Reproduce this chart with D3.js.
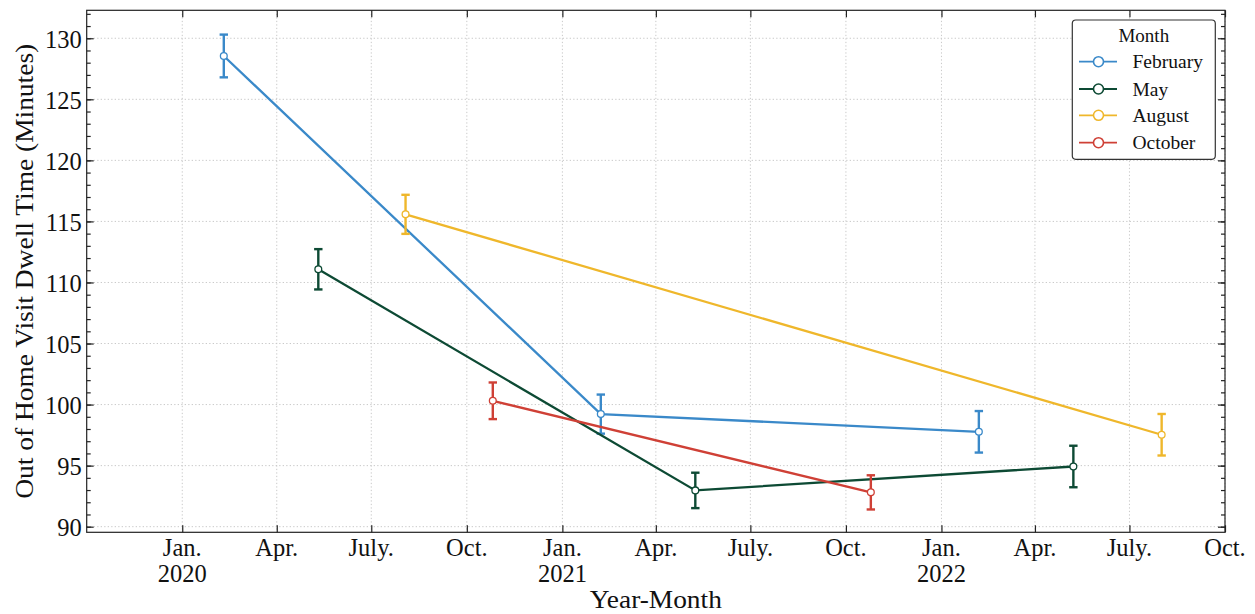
<!DOCTYPE html>
<html>
<head>
<meta charset="utf-8">
<script src="https://cdn.jsdelivr.net/npm/d3@7/dist/d3.min.js"></script>
<style>
  html, body { margin: 0; padding: 0; background: #ffffff; }
  svg { display: block; }
  text { font-family: "Liberation Serif", "DejaVu Serif", serif; fill: #111; }
</style>
</head>
<body>
<svg id="chart" width="1255" height="614"></svg>
<script>
// ---- data: mean out-of-home dwell time per sampled month, with error half-widths ----
const seriesNames = ["February", "May", "August", "October"];
const seriesColors = ["#3a89c9", "#0d4a34", "#efb72b", "#cf4036"];

const febDates = ["2020-02-10", "2021-02-07", "2022-02-06"];
const febMean  = [128.55, 99.22, 97.77];
const febErr   = [1.75, 1.6, 1.7];

const mayDates = ["2020-05-11", "2021-05-09", "2022-05-08"];
const mayMean  = [111.08, 92.97, 94.93];
const mayErr   = [1.65, 1.45, 1.7];

const augDates = ["2020-08-03", "2022-08-01"];
const augMean  = [115.58, 97.53];
const augErr   = [1.6, 1.7];

const octDates = ["2020-10-26", "2021-10-25"];
const octMean  = [100.31, 92.81];
const octErr   = [1.5, 1.4];

const xTickDates  = ["2020-01-01", "2020-04-01", "2020-07-01", "2020-10-01",
                     "2021-01-01", "2021-04-01", "2021-07-01", "2021-10-01",
                     "2022-01-01", "2022-04-01", "2022-07-01", "2022-10-01"];
const xTickMonths = ["Jan.", "Apr.", "July.", "Oct.", "Jan.", "Apr.", "July.", "Oct.",
                     "Jan.", "Apr.", "July.", "Oct."];
const xTickYears  = ["2020", "", "", "", "2021", "", "", "", "2022", "", "", ""];
const yTicks      = [90, 95, 100, 105, 110, 115, 120, 125, 130];
const xDomain     = ["2019-10-01", "2022-10-01"];
const yDomain     = [89.54, 132.29];

const parse = d3.utcParse("%Y-%m-%d");
const rawSeries = [
  [febDates, febMean, febErr],
  [mayDates, mayMean, mayErr],
  [augDates, augMean, augErr],
  [octDates, octMean, octErr]
];
const series = rawSeries.map(([ds, ms, es], i) => ({
  name: seriesNames[i],
  color: seriesColors[i],
  points: ds.map((d, j) => ({ date: parse(d), mean: ms[j], err: es[j] }))
}));

// ---- layout ----
const pLeft = 86.7, pRight = 1225, pTop = 10.3, pBottom = 532.3;
const svg = d3.select("#chart");

const x = d3.scaleUtc().domain(xDomain.map(parse)).range([pLeft, pRight]);
const y = d3.scaleLinear().domain(yDomain).range([pBottom, pTop]);
const xTicks = xTickDates.map(parse);
const yMinor = d3.range(90, 133, 1);

// ---- grid ----
const grid = svg.append("g").attr("stroke", "#c9c9c9").attr("stroke-width", 1)
  .attr("stroke-dasharray", "1.3,2.2");
grid.selectAll("line.gx").data(xTicks).join("line").attr("class", "gx")
  .attr("x1", d => x(d)).attr("x2", d => x(d)).attr("y1", pTop).attr("y2", pBottom);
grid.selectAll("line.gy").data(yTicks).join("line").attr("class", "gy")
  .attr("x1", pLeft).attr("x2", pRight).attr("y1", d => y(d)).attr("y2", d => y(d));

// ---- axes (ticks pointing inward on all four sides) ----
function styleAxis(g) {
  g.select(".domain").remove();
  g.selectAll(".tick line").attr("stroke", "#222").attr("stroke-width", 1.2);
  g.selectAll(".tick text").remove();
}
svg.append("g").attr("transform", `translate(0,${pBottom})`)
  .call(d3.axisBottom(x).tickValues(xTicks).tickSize(-7)).call(styleAxis);
svg.append("g").attr("transform", `translate(0,${pTop})`)
  .call(d3.axisTop(x).tickValues(xTicks).tickSize(-7)).call(styleAxis);
svg.append("g").attr("transform", `translate(${pLeft},0)`)
  .call(d3.axisLeft(y).tickValues(yTicks).tickSize(-7)).call(styleAxis);
svg.append("g").attr("transform", `translate(${pLeft},0)`)
  .call(d3.axisLeft(y).tickValues(yMinor).tickSize(-4)).call(styleAxis);
svg.append("g").attr("transform", `translate(${pRight},0)`)
  .call(d3.axisRight(y).tickValues(yTicks).tickSize(-7)).call(styleAxis);
svg.append("g").attr("transform", `translate(${pRight},0)`)
  .call(d3.axisRight(y).tickValues(yMinor).tickSize(-4)).call(styleAxis);

// frame
svg.append("rect").attr("x", pLeft).attr("y", pTop)
  .attr("width", pRight - pLeft).attr("height", pBottom - pTop)
  .attr("fill", "none").attr("stroke", "#222").attr("stroke-width", 1.2);

// tick labels
const yLab = svg.append("g").attr("font-size", 24.5).attr("text-anchor", "end");
yLab.selectAll("text").data(yTicks).join("text")
  .attr("x", pLeft - 5).attr("y", d => y(d) + 9.3).text(d => d);

const xLab = svg.append("g").attr("font-size", 24.5).attr("text-anchor", "middle");
xTicks.forEach((d, i) => {
  const t = xLab.append("text").attr("x", x(d)).attr("y", 556);
  t.append("tspan").attr("x", x(d)).text(xTickMonths[i]);
  if (xTickYears[i]) t.append("tspan").attr("x", x(d)).attr("dy", 26).text(xTickYears[i]);
});

// axis titles
svg.append("text").attr("x", (pLeft + pRight) / 2).attr("y", 608)
  .attr("text-anchor", "middle").attr("font-size", 25)
  .attr("textLength", 132).attr("lengthAdjust", "spacingAndGlyphs").text("Year-Month");
svg.append("text").attr("transform", `translate(33,${(pTop + pBottom) / 2}) rotate(-90)`)
  .attr("text-anchor", "middle").attr("font-size", 25)
  .attr("textLength", 455).attr("lengthAdjust", "spacingAndGlyphs")
  .text("Out of Home Visit Dwell Time (Minutes)");

// ---- series: connecting lines, error bars, open markers ----
const line = d3.line().x(d => x(d.date)).y(d => y(d.mean));
const plot = svg.append("g");
series.forEach(s => {
  const g = plot.append("g");
  g.append("path").datum(s.points).attr("d", line)
    .attr("fill", "none").attr("stroke", s.color).attr("stroke-width", 2.3);
  const eb = g.selectAll("g.eb").data(s.points).join("g").attr("class", "eb")
    .attr("stroke", s.color).attr("stroke-width", 2.4);
  eb.append("line")
    .attr("x1", d => x(d.date)).attr("x2", d => x(d.date))
    .attr("y1", d => y(d.mean - d.err)).attr("y2", d => y(d.mean + d.err));
  eb.append("line")
    .attr("x1", d => x(d.date) - 4.2).attr("x2", d => x(d.date) + 4.2)
    .attr("y1", d => y(d.mean + d.err)).attr("y2", d => y(d.mean + d.err));
  eb.append("line")
    .attr("x1", d => x(d.date) - 4.2).attr("x2", d => x(d.date) + 4.2)
    .attr("y1", d => y(d.mean - d.err)).attr("y2", d => y(d.mean - d.err));
  g.selectAll("circle").data(s.points).join("circle")
    .attr("cx", d => x(d.date)).attr("cy", d => y(d.mean)).attr("r", 3.4)
    .attr("fill", "#fff").attr("stroke", s.color).attr("stroke-width", 1.3);
});

// ---- legend ----
const lg = svg.append("g");
lg.append("rect").attr("x", 1072.3).attr("y", 20).attr("width", 143).attr("height", 139.3)
  .attr("rx", 3.5).attr("fill", "#fff").attr("stroke", "#333").attr("stroke-width", 1.2);
lg.append("text").attr("x", 1143.8).attr("y", 41.5).attr("text-anchor", "middle")
  .attr("font-size", 19).text("Month");
const rowY = [61.7, 89, 115.3, 142.7];
series.forEach((s, i) => {
  const r = lg.append("g");
  r.append("line").attr("x1", 1079).attr("x2", 1117).attr("y1", rowY[i]).attr("y2", rowY[i])
    .attr("stroke", s.color).attr("stroke-width", 1.8);
  r.append("circle").attr("cx", 1098.5).attr("cy", rowY[i]).attr("r", 5)
    .attr("fill", "#fff").attr("stroke", s.color).attr("stroke-width", 1.6);
  r.append("text").attr("x", 1132.5).attr("y", rowY[i] + 6.5).attr("font-size", 19.5).text(s.name);
});
</script>
</body>
</html>
